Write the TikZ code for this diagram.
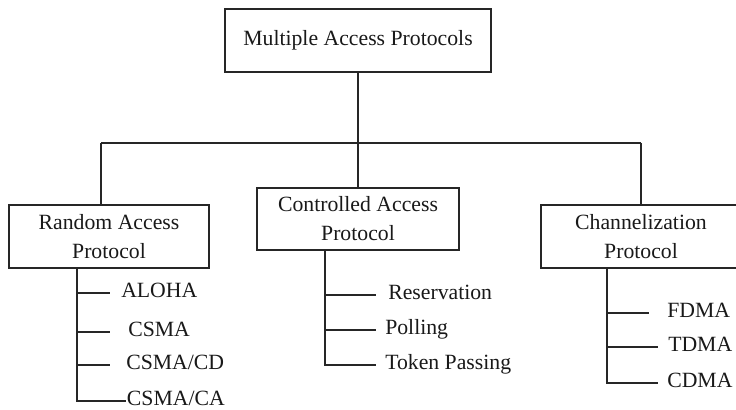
\documentclass[tikz,border=0pt]{standalone}
\usepackage{fontspec}
\setmainfont{Liberation Serif}
\begin{document}
\begin{tikzpicture}[x=0.75pt,y=-0.75pt,
  every node/.style={font=\fontsize{16.3}{21.75}\selectfont, text=black!90},
  box/.style={draw=black!85, line width=1pt, inner sep=0pt, align=center},
  item/.style={anchor=west, inner ysep=0pt, text height=0.662em, text depth=0pt},
  ln/.style={draw=black!85, line width=1pt}]
\useasboundingbox (0,0) rectangle (736,410);
\clip (0,0) rectangle (736,410);
\fill[white] (0,0) rectangle (736,410);
% boxes
\node[box, minimum width=199.5pt, minimum height=47.25pt] (top) at (358,40.5) {Multiple Access Protocols};
\node[box, minimum width=150pt, minimum height=47.25pt] (rand) at (109,236.5) {Random Access\\Protocol};
\node[box, minimum width=151.5pt, minimum height=46.5pt] (ctrl) at (358,219) {Controlled Access\\Protocol};
\node[box, minimum width=150pt, minimum height=47.25pt] (chan) at (641,236.5) {Channelization\\Protocol};
% tree connectors
\coordinate (hl) at (101,143);
\coordinate (hr) at (641,143);
\path[ln] (top.south) -- (top.south |- hl);
\path[ln] (hl) -- (hr);
\path[ln] (hl) -- (hl |- rand.north);
\path[ln] (top.south |- hl) -- (ctrl.north);
\path[ln] (hr) -- (chan.north);
% random access items
\node[item, inner xsep=8.25pt] (aloha) at (110,293) {ALOHA};
\node[item, inner xsep=13.5pt] (csma) at (110,332) {CSMA};
\node[item, inner xsep=12pt] (csmacd) at (110,365) {CSMA/CD};
\node[item, inner xsep=0.5pt] (csmaca) at (126,401) {CSMA/CA};
\coordinate (rb) at (77,0);
\path[ln] (rb |- rand.south) |- (csmaca.west);
\path[ln] (rb |- aloha.west) -- (aloha.west);
\path[ln] (rb |- csma.west) -- (csma.west);
\path[ln] (rb |- csmacd.west) -- (csmacd.west);
% controlled access items
\node[item, inner xsep=9pt] (resv) at (376,295) {Reservation};
\node[item, inner xsep=6.75pt] (poll) at (376,330) {Polling};
\node[item, inner xsep=6.75pt] (token) at (376,365) {Token Passing};
\coordinate (cb) at (325,0);
\path[ln] (cb |- ctrl.south) |- (token.west);
\path[ln] (cb |- resv.west) -- (resv.west);
\path[ln] (cb |- poll.west) -- (poll.west);
% channelization items
\node[item, inner xsep=13.5pt] (fdma) at (649,313) {FDMA};
\node[item, inner xsep=7.5pt] (tdma) at (658,347) {TDMA};
\node[item, inner xsep=6.75pt] (cdma) at (658,383) {CDMA};
\coordinate (chb) at (607,0);
\path[ln] (chb |- chan.south) |- (cdma.west);
\path[ln] (chb |- fdma.west) -- (fdma.west);
\path[ln] (chb |- tdma.west) -- (tdma.west);
\end{tikzpicture}
\end{document}
